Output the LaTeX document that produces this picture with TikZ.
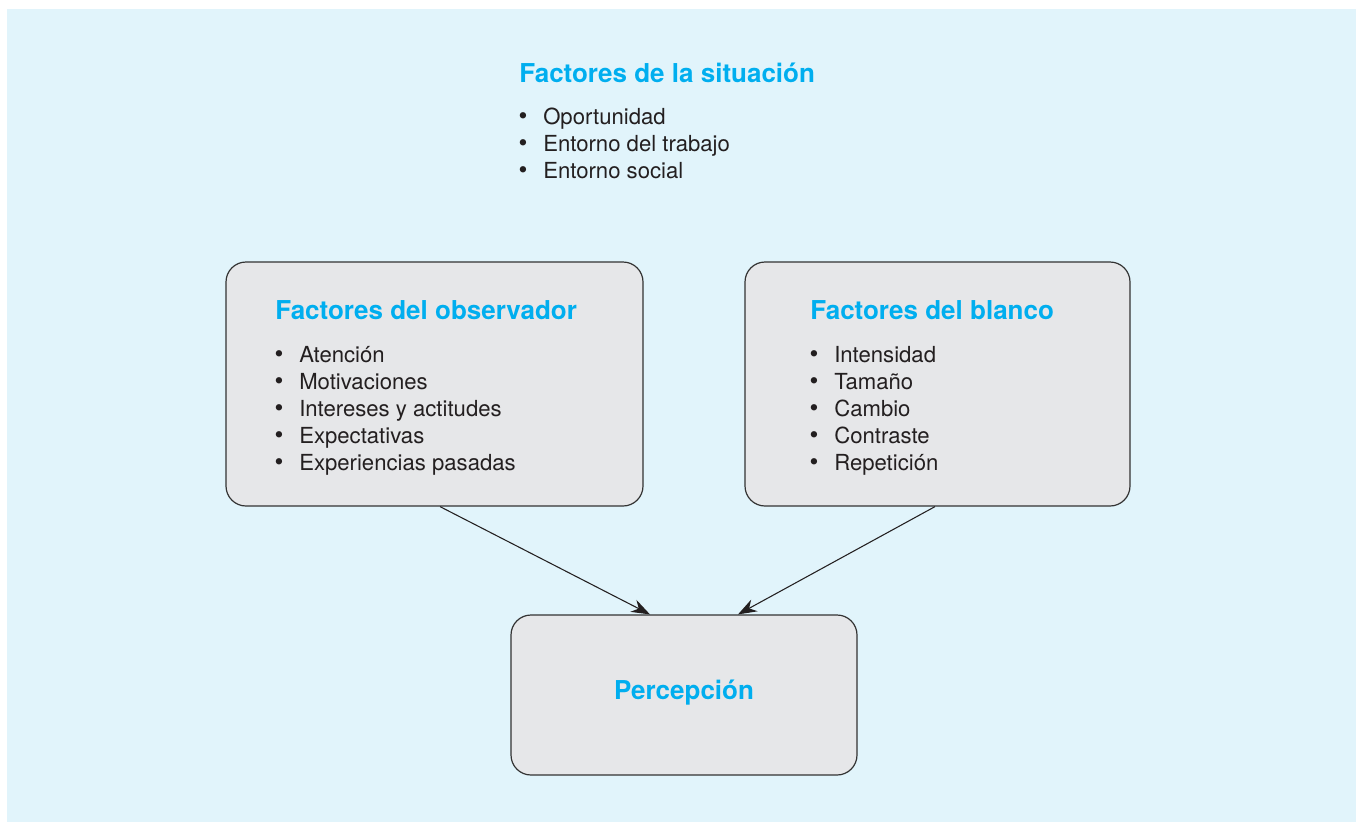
\documentclass[tikz,border=0pt]{standalone}
\usepackage{fontspec}
\setmainfont{TeX Gyre Heros}
\usetikzlibrary{arrows.meta,calc}
\definecolor{bgblue}{HTML}{E1F4FB}
\definecolor{boxgray}{HTML}{E6E7E9}
\definecolor{titleblue}{HTML}{00AEEF}
\definecolor{txt}{HTML}{231F20}
\definecolor{edge}{HTML}{333333}
\tikzset{
  box/.style={draw=edge, line width=0.9pt, fill=boxgray, rounded corners=15pt, rectangle, inner sep=0pt},
  ttl/.style={anchor=base west, inner sep=0pt, text=titleblue, font=\fontsize{19.5}{23}\selectfont\bfseries},
  item/.style={anchor=base west, inner sep=0pt, text=txt, font=\fontsize{16.6}{20}\selectfont},
  bul/.style={anchor=base, inner sep=0pt, text=txt, font=\fontsize{19}{22}\selectfont},
  conn/.style={draw=txt, line width=0.8pt, -{Stealth[length=14pt,width=10pt]}}
}
\begin{document}
\begin{tikzpicture}[x=0.75pt,y=-0.75pt]
\useasboundingbox (0,0) rectangle (1356,822);
\fill[white] (0,0) rectangle (1356,822);
\fill[bgblue] (7,9) rectangle (1356,822);
% boxes
\node[box, minimum width=312.75pt, minimum height=183pt] (obs) at (434.5,384) {};
\node[box, minimum width=288.75pt, minimum height=183pt] (bla) at (937.5,384) {};
\node[box, minimum width=259.5pt, minimum height=120pt] (per) at (684,695) {};
% situacion
\node[ttl] (tsit) at (519,82) {Factores de la situación};
\foreach \t [count=\i] in {Oportunidad,Entorno del trabajo,Entorno social} {
  \node[bul] (sb\i) at (523,{124+27*(\i-1)}) {\textbullet};
  \node[item] (si\i) at (543,{124+27*(\i-1)}) {\t};
}
% observador
\node[ttl] (tobs) at (275,319) {Factores del observador};
\foreach \t [count=\i] in {Atención,Motivaciones,Intereses y actitudes,Expectativas,Experiencias pasadas} {
  \node[bul] (ob\i) at (279,{362+27*(\i-1)}) {\textbullet};
  \node[item] (oi\i) at (299,{362+27*(\i-1)}) {\t};
}
% blanco
\node[ttl] (tbla) at (810,319) {Factores del blanco};
\foreach \t [count=\i] in {Intensidad,Tamaño,Cambio,Contraste,Repetición} {
  \node[bul] (bb\i) at (814,{362+27*(\i-1)}) {\textbullet};
  \node[item] (bi\i) at (834,{362+27*(\i-1)}) {\t};
}
% percepcion
\node[ttl, anchor=base] (tper) at (684,699) {Percepción};
% connectors
\draw[conn] ($(obs.south)+(5.5,0)$) -- ($(per.north)+(-34,0)$);
\draw[conn] ($(bla.south)+(-2.5,0)$) -- ($(per.north)+(54,0)$);
\end{tikzpicture}
\end{document}
